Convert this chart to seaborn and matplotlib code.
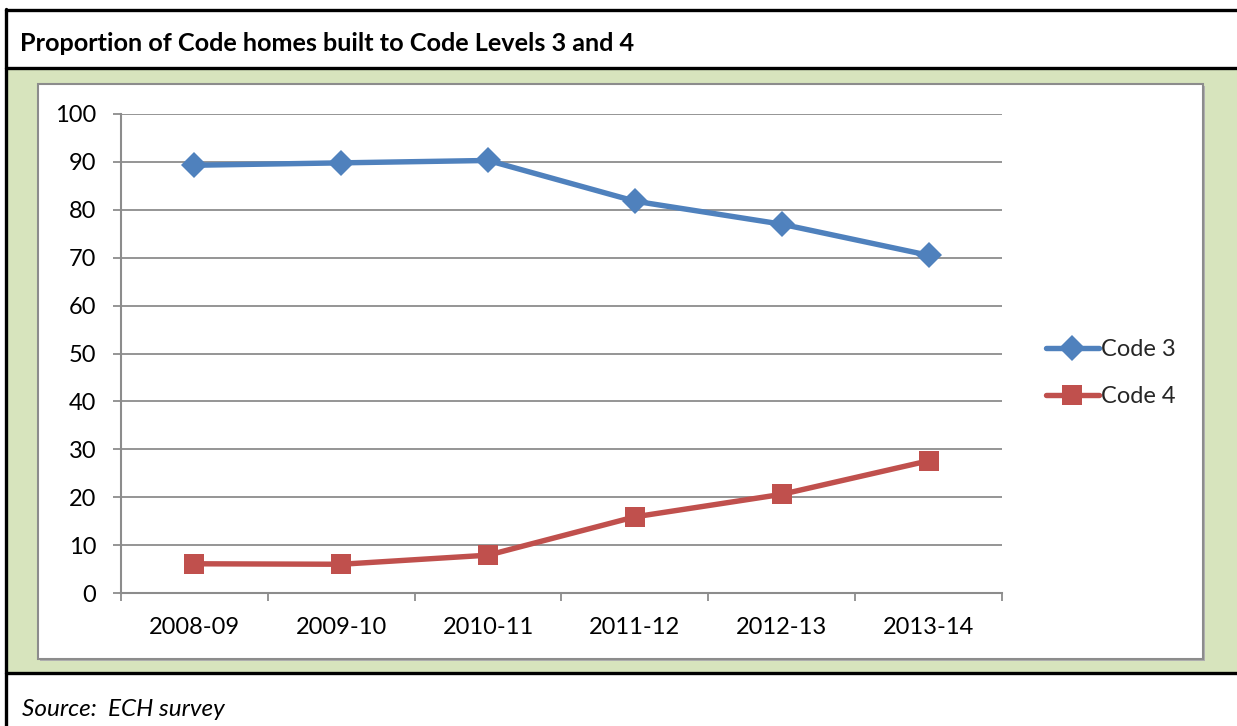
import matplotlib
matplotlib.use("Agg")
import matplotlib.pyplot as plt
from matplotlib.patches import Rectangle
from matplotlib.lines import Line2D
import seaborn as sns
import pandas as pd
import numpy as np

# ---- data ----
years = ["2008-09", "2009-10", "2010-11", "2011-12", "2012-13", "2013-14"]
code3 = [89.3, 89.8, 90.3, 81.8, 77.0, 70.5]
code4 = [6.1, 6.0, 7.9, 15.9, 20.6, 27.6]
series_names = ["Code 3", "Code 4"]
title = "Proportion of Code homes built to Code Levels 3 and 4"
source = "Source:  ECH survey"
yticks = [0, 10, 20, 30, 40, 50, 60, 70, 80, 90, 100]

df = pd.DataFrame({
    "year": years * 2,
    "value": code3 + code4,
    "series": [series_names[0]] * len(years) + [series_names[1]] * len(years),
})

sns.set_theme(style="white")
plt.rcParams["font.family"] = ["Lato", "DejaVu Sans"]

W, H = 1237, 726
fig = plt.figure(figsize=(W / 100, H / 100), dpi=100)
fig.patch.set_facecolor("white")

def fx(x):
    return x / W

def fy(y):
    return 1 - y / H

# green panel
fig.patches.append(Rectangle((fx(7), fy(672)), fx(1237) - fx(7), fy(68) - fy(672),
                             transform=fig.transFigure, facecolor="#D7E4BD",
                             edgecolor="none", zorder=0))
# white chart frame (with soft shadow)
fig.patches.append(Rectangle((fx(40), fy(661)), fx(1205) - fx(40), fy(86) - fy(661),
                             transform=fig.transFigure, facecolor="#B0B0B0",
                             edgecolor="none", zorder=0.5))
fig.patches.append(Rectangle((fx(38), fy(659)), fx(1203) - fx(38), fy(84) - fy(659),
                             transform=fig.transFigure, facecolor="white",
                             edgecolor="#8C8C8C", linewidth=1.5, zorder=1))
# black outline lines
for (x0, y0, x1, y1) in [(6, 10, 1237, 10), (6, 67.5, 1237, 67.5), (6, 673, 1237, 673), (6, 9, 6, 726)]:
    fig.lines.append(Line2D([fx(x0), fx(x1)], [fy(y0), fy(y1)], transform=fig.transFigure,
                            color="black", linewidth=2.4, zorder=3))

fig.text(fx(20), fy(51), title, fontsize=18.2, fontweight="bold", va="baseline", ha="left",
         color="black")
fig.text(fx(22), fy(716), source, fontsize=17.5, style="italic", va="baseline", ha="left",
         color="black")

ax = fig.add_axes([fx(121), fy(593), fx(1002) - fx(121), fy(114) - fy(593)])
ax.set_facecolor("none")
ax.set_zorder(2)

palette = {"Code 3": "#4F81BD", "Code 4": "#C0504D"}
markers = {"Code 3": "D", "Code 4": "s"}
sns.lineplot(data=df, x="year", y="value", hue="series", style="series",
             palette=palette, markers=markers, dashes=False, sort=False,
             linewidth=3.9, markersize=13.5, markeredgewidth=0, ax=ax, legend=False)
# enlarge the square markers a little
for line in ax.lines:
    if line.get_marker() == "s":
        line.set_markersize(14.5)

ax.set_xlim(-0.5, len(years) - 0.5)
ax.set_ylim(0, 100)
ax.set_yticks(yticks)
ax.set_yticklabels([str(v) for v in yticks])
ax.set_xticks(range(len(years)))
ax.set_xticklabels(years)
ax.set_xticks(np.arange(-0.5, len(years), 1.0), minor=True)
ax.set_xlabel("")
ax.set_ylabel("")

ax.grid(axis="y", color="#8C8C8C", linewidth=1.3)
ax.grid(axis="x", visible=False)
ax.set_axisbelow(True)
for s in ["top", "right"]:
    ax.spines[s].set_visible(False)
for s in ["left", "bottom"]:
    ax.spines[s].set_color("#8C8C8C")
    ax.spines[s].set_linewidth(1.5)

ax.tick_params(axis="y", which="major", length=5.8, width=1.3, color="#8C8C8C",
               direction="out", pad=12, labelsize=17, labelcolor="black", left=True)
ax.tick_params(axis="x", which="major", length=0, pad=17, labelsize=17, labelcolor="black")
ax.tick_params(axis="x", which="minor", length=5.8, width=1.3, color="#8C8C8C",
               direction="out", bottom=True)

handles = [
    Line2D([], [], color=palette["Code 3"], marker="D", markersize=13.5, markeredgewidth=0, linewidth=3.9),
    Line2D([], [], color=palette["Code 4"], marker="s", markersize=14.5, markeredgewidth=0, linewidth=3.9),
]
leg = ax.legend(handles, series_names, loc="center left",
                bbox_to_anchor=(fx(1034), fy(373)), bbox_transform=fig.transFigure,
                frameon=False, fontsize=17, handlelength=2.25, handletextpad=0.1,
                labelspacing=1.1, borderpad=0)

fig.savefig("out.png", dpi=100)
